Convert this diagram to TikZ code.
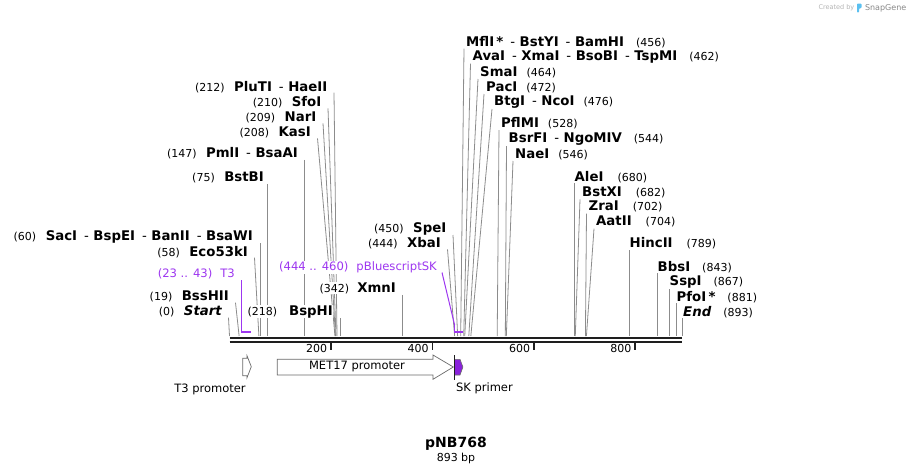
\documentclass[tikz,border=0pt]{standalone}
\usepackage{fontspec}
\setmainfont{DejaVu Sans}
\usetikzlibrary{calc, backgrounds}

% Position label and separator used in the enzyme names
\newcommand{\bpnum}[1]{{\mdseries\fontsize{11}{13}\selectfont(#1)}}
\newcommand{\enzsep}{\hspace{7pt}{\mdseries -}\hspace{4.5pt}}

\begin{document}
\begin{tikzpicture}[x=1pt, y=-1pt,
    enzyme/.style={font=\fontsize{13.3}{15}\selectfont\bfseries, fill=white, inner sep=0.5pt},
    primerlabel/.style={font=\fontsize{11.6}{13}\selectfont, text=primerColour, fill=white, inner sep=0.5pt},
    siteline/.style={draw=siteColour, line width=0.8pt},
    primerline/.style={draw=primerColour, line width=1.3pt},
    feature/.style={draw=featureColour, line width=0.7pt, fill=white},
    featurelabel/.style={font=\fontsize{11.5}{13}\selectfont}]

    % Define colours
    \definecolor{siteColour}{HTML}{8C8C8C}
    \definecolor{primerColour}{HTML}{9D36F0}
    \definecolor{primerFill}{HTML}{8A22DC}
    \definecolor{featureColour}{HTML}{6A6A6A}
    \definecolor{seqColour}{HTML}{1E1E1E}
    \definecolor{logoGrey}{HTML}{B4B4B4}
    \definecolor{logoBlue}{HTML}{5BC0F0}

    % Define map scale (x position of base pair 0, and pt per bp)
    \def\xstart{229.5}
    \def\bpscale{0.507}

    \useasboundingbox (0,0) rectangle (914,475);

    % Cut sites on the sequence
    \foreach \bp in {0,19,58,60,75,147,208,209,210,212,218,342,444,450,456,462,464,472,476,528,544,546,680,682,702,704,789,843,867,881,893}
        \coordinate (s\bp) at ({\xstart+\bpscale*\bp},336);

    % Primer ends
    \coordinate (p23) at ({\xstart+\bpscale*23},332);
    \coordinate (p43) at ({\xstart+\bpscale*43},332);
    \coordinate (p444) at ({\xstart+\bpscale*444},332);
    \coordinate (p460) at ({\xstart+\bpscale*460},332);

    % Enzyme labels left of their sites
    \node[enzyme, anchor=east] (startsite) at (222.5,311.7) {\bpnum{0}\hspace{9.5pt}\itshape Start};
    \node[enzyme, anchor=east] (bsshii) at (229.5,296.7) {\bpnum{19}\hspace{9.5pt}BssHII};
    \node[enzyme, anchor=east] (eco53ki) at (248.5,251.7) {\bpnum{58}\hspace{9.5pt}Eco53kI};
    \node[enzyme, anchor=east] (saci) at (253.5,236.7) {\bpnum{60}\hspace{9.5pt}SacI\enzsep BspEI\enzsep BanII\enzsep BsaWI};
    \node[enzyme, anchor=east] (bstbi) at (264.5,177.3) {\bpnum{75}\hspace{9.5pt}BstBI};
    \node[enzyme, anchor=east] (pmli) at (298.5,153.3) {\bpnum{147}\hspace{9.5pt}PmlI\enzsep BsaAI};
    \node[enzyme, anchor=east] (kasi) at (311.5,132.3) {\bpnum{208}\hspace{9.5pt}KasI};
    \node[enzyme, anchor=east] (nari) at (317,117.3) {\bpnum{209}\hspace{9.5pt}NarI};
    \node[enzyme, anchor=east] (sfoi) at (322,102.3) {\bpnum{210}\hspace{9.5pt}SfoI};
    \node[enzyme, anchor=east] (pluti) at (328,86.7) {\bpnum{212}\hspace{9.5pt}PluTI\enzsep HaeII};
    \node[enzyme, anchor=east] (bsphi) at (333.5,311.7) {\bpnum{218}\hspace{12pt}BspHI};
    \node[enzyme, anchor=east] (xmni) at (396.5,288.3) {\bpnum{342}\hspace{8pt}XmnI};
    \node[enzyme, anchor=east] (xbai) at (441.5,243.3) {\bpnum{444}\hspace{9.5pt}XbaI};
    \node[enzyme, anchor=east] (spei) at (447,229) {\bpnum{450}\hspace{9.5pt}SpeI};

    % Enzyme labels right of their sites
    \node[enzyme, anchor=west] (mfli) at (465.5,41.7) {MflI\,*\enzsep BstYI\enzsep BamHI\hspace{12pt}\bpnum{456}};
    \node[enzyme, anchor=west] (avai) at (472,56.7) {AvaI\enzsep XmaI\enzsep BsoBI\enzsep TspMI\hspace{12pt}\bpnum{462}};
    \node[enzyme, anchor=west] (smai) at (479.5,72) {SmaI\hspace{9pt}\bpnum{464}};
    \node[enzyme, anchor=west] (paci) at (485.5,87) {PacI\hspace{9pt}\bpnum{472}};
    \node[enzyme, anchor=west] (btgi) at (493.5,102) {BtgI\enzsep NcoI\hspace{9pt}\bpnum{476}};
    \node[enzyme, anchor=west] (pflmi) at (500.5,123) {PflMI\hspace{9pt}\bpnum{528}};
    \node[enzyme, anchor=west] (bsrfi) at (508,139) {BsrFI\enzsep NgoMIV\hspace{12pt}\bpnum{544}};
    \node[enzyme, anchor=west] (naei) at (514.5,154) {NaeI\hspace{9pt}\bpnum{546}};
    \node[enzyme, anchor=west] (alei) at (574,176.7) {AleI\hspace{14pt}\bpnum{680}};
    \node[enzyme, anchor=west] (bstxi) at (581.5,192.3) {BstXI\hspace{14pt}\bpnum{682}};
    \node[enzyme, anchor=west] (zrai) at (588,206.7) {ZraI\hspace{14pt}\bpnum{702}};
    \node[enzyme, anchor=west] (aatii) at (595.5,221.7) {AatII\hspace{14pt}\bpnum{704}};
    \node[enzyme, anchor=west] (hincii) at (629,243.3) {HincII\hspace{14pt}\bpnum{789}};
    \node[enzyme, anchor=west] (bbsi) at (657,266.7) {BbsI\hspace{12pt}\bpnum{843}};
    \node[enzyme, anchor=west] (sspi) at (669,281.7) {SspI\hspace{12pt}\bpnum{867}};
    \node[enzyme, anchor=west] (pfoi) at (676,296.7) {PfoI\,*\hspace{12pt}\bpnum{881}};
    \node[enzyme, anchor=west] (endsite) at (682.5,311.7) {\itshape End\hspace{12pt}\upshape\bpnum{893}};

    % Primer labels
    \node[primerlabel, anchor=east] (t3) at (235.5,274) {(23 .. 43)\hspace{8pt}T3};
    \node[primerlabel, anchor=east] (sk) at (437.5,267.5) {(444 .. 460)\hspace{8pt}pBluescriptSK};

    % Draw lines from labels to sites
    \begin{scope}[on background layer]
        \foreach \lbl/\bp in {startsite/0, bsshii/19, eco53ki/58, kasi/208, nari/209, sfoi/210, pluti/212, xbai/444, spei/450}
            \draw[siteline] ([shift={(6,6)}]\lbl.east) -- (s\bp);
        \foreach \lbl/\bp in {saci/60, bstbi/75, pmli/147, bsphi/218, xmni/342}
            \draw[siteline] (\lbl.east -| s\bp) ++(0,6.5) -- (s\bp);
        \foreach \lbl/\bp in {mfli/456, avai/462, smai/464, paci/472, btgi/476, pflmi/528, bsrfi/544, naei/546, bstxi/682, zrai/702, aatii/704}
            \draw[siteline] ([shift={(-1.5,7)}]\lbl.west) -- (s\bp);
        \foreach \lbl/\bp in {alei/680, hincii/789, bbsi/843, sspi/867, pfoi/881, endsite/893}
            \draw[siteline] (\lbl.west -| s\bp) ++(0,6.5) -- (s\bp);
    \end{scope}

    % Draw primers
    \draw[primerline] (t3.east -| p23) ++(0,6) -- (p23) -- (p43);
    \draw[primerline, line width=1pt] ([shift={(4.5,5)}]sk.east) -- ([shift={(0,-7)}]p444);
    \draw[primerline] ([shift={(0,-7)}]p444) -- (p444) -- (p460);

    % Draw the double strand
    \draw[seqColour, line width=2.3pt] ({\xstart},337.8) -- ({\xstart+\bpscale*893},337.8);
    \draw[seqColour, line width=2pt] ({\xstart},341.7) -- ({\xstart+\bpscale*893},341.7);

    % Ruler ticks
    \foreach \t in {200,400,600,800} {
        \draw[seqColour, line width=1.6pt] ({\xstart+\bpscale*\t},342) -- ++(0,8);
        \node[anchor=east, font=\fontsize{11}{13}\selectfont, inner sep=0pt] (tick\t) at ({\xstart+\bpscale*\t-3.5},348.3) {\t};
    }

    % Features
    \draw[feature] (242.7,358.3) -- (247,358.3) -- (247,355.7) -- (251.3,366.7) -- (247,377.7) -- (247,375.7) -- (242.7,375.7) -- cycle;
    \node[featurelabel] (t3prom) at (210,389) {T3 promoter};
    \draw[feature] (277.3,359.3) -- (433,359.3) -- (433,355) -- (453.3,367) -- (433,379.3) -- (433,375) -- (277.3,375) -- cycle;
    \node[featurelabel] (met17) at (357,366.7) {MET17 promoter};
    \filldraw[fill=primerFill, draw=featureColour, line width=0.6pt] (454.6,359.3) -- (460,359.3) -- (462.9,367) -- (460,375) -- (454.6,375) -- cycle;
    \draw[seqColour, line width=0.8pt] (454.6,355) -- (454.6,380);
    \node[featurelabel, anchor=west] (skprimer) at (452.5,388.3) {SK primer};

    % Title
    \node[font=\fontsize{14}{16}\selectfont\bfseries] (title) at (456,443.5) {pNB768};
    \node[font=\fontsize{11}{13}\selectfont] (length) at (456,458.5) {893 bp};

    % Logo
    \node[anchor=west, font=\fontsize{6.5}{8}\selectfont, text=logoGrey] (createdby) at (815,8) {Created by};
    \fill[logoBlue, rounded corners=0.8pt] (857,3.5) -- (861.5,3.5) -- (861.5,8) -- (859,8.5) -- (859,12.5) -- (857,12.5) -- cycle;
    \node[anchor=west, font=\fontsize{8}{9}\selectfont, text=logoGrey!75!black] (snapgene) at (861.5,8) {SnapGene};

\end{tikzpicture}
\end{document}
